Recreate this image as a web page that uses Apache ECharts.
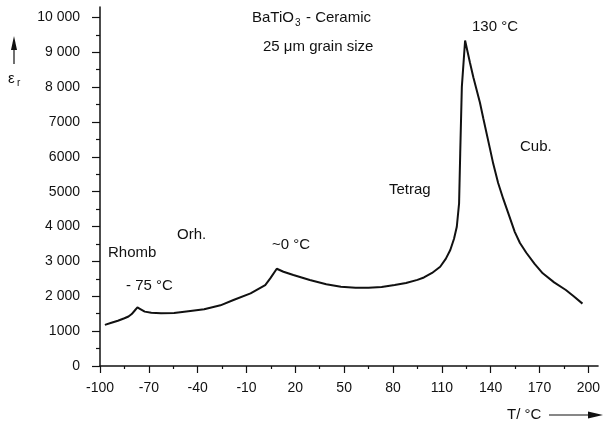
<!DOCTYPE html>
<html>
<head>
<meta charset="utf-8">
<script src="https://cdn.jsdelivr.net/npm/echarts@6/dist/echarts.min.js"></script>
<style>
html,body{margin:0;padding:0;background:#fff;}
#chart{width:603px;height:426px;}
</style>
</head>
<body>
<div id="chart"></div>
<script>
// Temperature (°C) and relative permittivity
const temps = [-97, -93, -89, -85, -82.5, -80.5, -78.5, -77, -75.5, -72.5, -68.5, -62.5, -54.5, -44.5, -36, -26, -18, -7.5, 1.5, 4.6, 8.6, 12.7, 18.8, 28.9, 39, 48, 57, 65, 73, 81, 88, 95, 99, 104, 109, 112.5, 115.2, 117.5, 119.2, 120.6, 121.3, 122.3, 124.3, 127.3, 129.4, 133.4, 135.5, 139.5, 141.6, 144.6, 147.7, 150.7, 154.8, 158, 161.9, 167, 172, 179, 186.2, 191, 196.4];
const epsilonR = [1180, 1240, 1300, 1370, 1420, 1490, 1600, 1680, 1640, 1560, 1530, 1512, 1520, 1577, 1626, 1741, 1893, 2085, 2323, 2515, 2790, 2705, 2610, 2466, 2343, 2274, 2245, 2245, 2265, 2323, 2380, 2470, 2540, 2670, 2848, 3080, 3327, 3650, 3995, 4666, 6100, 8010, 9340, 8700, 8280, 7560, 7100, 6250, 5800, 5250, 4800, 4400, 3850, 3530, 3250, 2930, 2660, 2400, 2180, 2000, 1790];

const xTicks = [-100, -70, -40, -10, 20, 50, 80, 110, 140, 170, 200];
const xTickLabels = ["-100", "-70", "-40", "-10", "20", "50", "80", "110", "140", "170", "200"];
const xMinorTicks = [-85, -55, -25, 5, 35, 65, 95, 125, 155, 185];
const yTicks = [0, 1000, 2000, 3000, 4000, 5000, 6000, 7000, 8000, 9000, 10000];
const yTickLabels = ["0", "1000", "2 000", "3 000", "4 000", "5000", "6000", "7000", "8 000", "9 000", "10 000"];
const yMinorTicks = [500, 1500, 2500, 3500, 4500, 5500, 6500, 7500, 8500, 9500];

const annotations = [
  {text: "Rhomb", x: 108, y: 253},
  {text: "Orh.", x: 177, y: 235},
  {text: "- 75 °C", x: 126, y: 286},
  {text: "~0 °C", x: 272, y: 245},
  {text: "Tetrag", x: 389, y: 190},
  {text: "130 °C", x: 472, y: 27},
  {text: "Cub.", x: 520, y: 147},
  {text: "25 μm grain size", x: 263, y: 47}
];

const INK = '#111';
const FONT = '"Liberation Sans", Arial, sans-serif';

const chart = echarts.init(document.getElementById('chart'), null, {renderer: 'canvas'});

function txt(t, x, y, size, align) {
  return {
    type: 'text', silent: true,
    style: {
      text: t, x: x, y: y, fill: INK,
      font: size + 'px ' + FONT,
      align: align || 'left', verticalAlign: 'middle',
      textAlign: align || 'left', textVerticalAlign: 'middle'
    }
  };
}

const graphics = annotations.map(a => txt(a.text, a.x, a.y, 15));
// title pieces with subscript
graphics.push(txt("BaTiO", 252, 18, 15));
graphics.push(txt("3", 295, 23, 10));
graphics.push(txt("- Ceramic", 306, 18, 15));
// y axis name with arrow
graphics.push(txt("ε", 8, 79, 15));
graphics.push(txt("r", 17, 83, 10));
graphics.push({type: 'line', silent: true, shape: {x1: 14, y1: 64, x2: 14, y2: 48}, style: {stroke: INK, lineWidth: 1.2}});
graphics.push({type: 'polygon', silent: true, shape: {points: [[14, 36], [11, 50], [17, 50]]}, style: {fill: INK}});
// x axis name with arrow
graphics.push(txt("T/ °C", 507, 415, 15));
graphics.push({type: 'line', silent: true, shape: {x1: 549, y1: 415, x2: 592, y2: 415}, style: {stroke: INK, lineWidth: 1.2}});
graphics.push({type: 'polygon', silent: true, shape: {points: [[603, 415], [588, 411.5], [588, 418.5]]}, style: {fill: INK}});

const option = {
  animation: false,
  backgroundColor: '#fff',
  grid: {left: 100, right: 0, top: 7, bottom: 60, containLabel: false},
  xAxis: [
    {
      type: 'value', min: -100, max: 206, position: 'bottom',
      axisLine: {show: true, onZero: false, lineStyle: {color: INK, width: 1.5}},
      axisTick: {show: true, customValues: xTicks, length: 7, lineStyle: {color: INK, width: 1.2}},
      axisLabel: {
        show: true, customValues: xTicks, margin: 15,
        formatter: v => xTickLabels[xTicks.indexOf(v)],
        color: INK, fontSize: 14, fontFamily: FONT
      },
      splitLine: {show: false}
    },
    {
      type: 'value', min: -100, max: 206, position: 'bottom',
      axisLine: {show: false, onZero: false},
      axisTick: {show: true, customValues: xMinorTicks, length: 3, lineStyle: {color: INK, width: 1.2}},
      axisLabel: {show: false},
      splitLine: {show: false}
    }
  ],
  yAxis: [
    {
      type: 'value', min: 0, max: 10300, position: 'left',
      axisLine: {show: true, onZero: false, lineStyle: {color: INK, width: 1.5}},
      axisTick: {show: true, customValues: yTicks, length: 8, lineStyle: {color: INK, width: 1.2}},
      axisLabel: {
        show: true, customValues: yTicks, margin: 20,
        formatter: v => yTickLabels[yTicks.indexOf(v)],
        color: INK, fontSize: 14, fontFamily: FONT
      },
      splitLine: {show: false}
    },
    {
      type: 'value', min: 0, max: 10300, position: 'left',
      axisLine: {show: false, onZero: false},
      axisTick: {show: true, customValues: yMinorTicks, length: 4, lineStyle: {color: INK, width: 1.2}},
      axisLabel: {show: false},
      splitLine: {show: false}
    }
  ],
  series: [{
    type: 'line',
    xAxisIndex: 0, yAxisIndex: 0,
    data: temps.map((t, i) => [t, epsilonR[i]]),
    showSymbol: false, smooth: false,
    lineStyle: {color: INK, width: 2},
    silent: true
  }],
  graphic: graphics
};

chart.setOption(option);
</script>
</body>
</html>
